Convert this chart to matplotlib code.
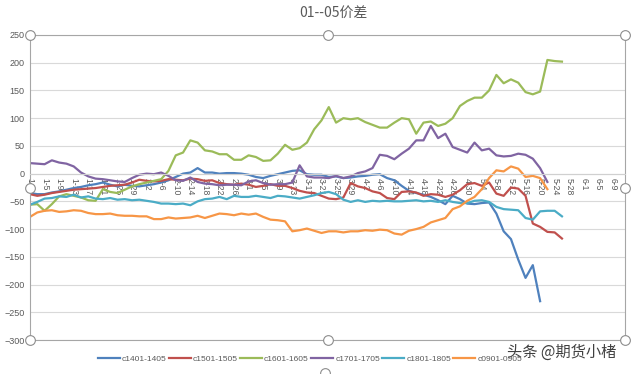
import matplotlib
matplotlib.use('Agg')
import matplotlib.pyplot as plt
import pandas as pd

# dates of the readings (every 2 days from 1-1) and of the axis labels (every 4 days)
start = pd.Timestamp('2016-01-01')
dates = pd.date_range(start, periods=74, freq='2D')
tick_dates = pd.date_range('2016-01-01', '2016-06-09', freq='4D')
tick_labels = [f'{d.month}-{d.day}' for d in tick_dates]

names = ['c1401-1405', 'c1501-1505', 'c1601-1605', 'c1701-1705', 'c1801-1805', 'c0901-0905']

c1401 = [-35, -37, -37, -34, -32, -29, -26, -24, -21, -19,
         -16, -20, -23, -20, -22, -23, -21, -19, -16, -12,
         -6, 0, 2, 10, 2, 2, 0, 1, 1, 0,
         -2, -6, -8, -4, -1, 2, 5, 6, -1, -2,
         -2, -6, -5, -8, -7, -5, -4, -2, -1, -8,
         -12, -22, -31, -35, -38, -42, -48, -55, -40, -46,
         -54, -55, -53, -52, -72, -104, -118, -155, -188, -165,
         -230]
c1501 = [-37, -40, -38, -35, -33, -31, -29, -28, -27, -26,
         -24, -22, -21, -20, -16, -11, -13, -14, -13, -10,
         -11, -12, -9, -10, -13, -12, -17, -19, -20, -18,
         -20, -24, -22, -19, -22, -22, -26, -31, -34, -35,
         -40, -45, -46, -43, -17, -23, -26, -32, -35, -44,
         -46, -33, -32, -34, -40, -37, -38, -42, -38, -30,
         -19, -17, -22, -16, -36, -40, -25, -27, -40, -90,
         -96, -105, -106, -117]
c1601 = [-56, -55, -67, -55, -41, -37, -40, -43, -48, -49,
         -28, -33, -35, -29, -23, -19, -16, -13, -10, 5,
         33, 38, 60, 56, 42, 40, 35, 35, 25, 25,
         33, 30, 23, 24, 36, 52, 43, 46, 56, 80,
         96, 120, 92, 100, 98, 100, 93, 88, 83, 83,
         92, 100, 98, 72, 92, 94, 86, 90, 100, 122,
         131, 137, 137, 150, 178, 163, 170, 164, 147, 143,
         148, 205, 203, 202]
c1701 = [19, 18, 17, 24, 20, 18, 13, 2, -5, -9,
         -10, -12, -14, -15, -8, -2, 0, -1, 2, -4,
         -12, -13, -7, -15, -18, -19, -21, -20, -20, -21,
         -14, -12, -17, -20, -19, -19, -16, 15, -5, -7,
         -7, -8, -4, -8, -5, 1, 4, 10, 34, 32,
         26, 36, 45, 60, 60, 86, 64, 72, 48, 43,
         38, 56, 42, 45, 33, 31, 32, 36, 34, 27,
         10, -15]
c1801 = [-56, -51, -45, -44, -41, -42, -38, -43, -41, -45,
         -46, -44, -47, -46, -48, -47, -49, -51, -54, -54,
         -55, -54, -57, -50, -46, -45, -42, -46, -40, -42,
         -42, -40, -42, -44, -40, -41, -43, -45, -42, -39,
         -35, -33, -37, -47, -51, -48, -51, -49, -50, -49,
         -50, -50, -49, -48, -50, -49, -51, -48, -51, -53,
         -53, -49, -48, -51, -60, -64, -65, -66, -80, -83,
         -68, -67, -67, -77]
c0901 = [-78, -70, -67, -66, -69, -68, -66, -67, -71, -73,
         -73, -72, -75, -76, -76, -77, -77, -82, -82, -79,
         -81, -80, -79, -76, -80, -76, -72, -73, -75, -72,
         -74, -72, -78, -83, -84, -86, -104, -102, -99, -103,
         -107, -104, -104, -106, -104, -104, -102, -103, -101, -102,
         -108, -110, -103, -100, -96, -88, -84, -80, -64, -59,
         -49, -42, -28, -8, 6, 4, 13, 9, -6, -4,
         -8, -28]

series = [c1401, c1501, c1601, c1701, c1801, c0901]
colors = ['#4F81BD', '#C0504D', '#9BBB59', '#8064A2', '#4BACC6', '#F79646']

plt.rcParams['font.family'] = ['Liberation Sans', 'Noto Sans CJK SC', 'DejaVu Sans']
grey = '#595959'

fig = plt.figure(figsize=(6.4, 3.74), dpi=100)
ax = fig.add_axes([30 / 640, 1 - 340 / 374, 595 / 640, 305 / 374])

x = (dates - start).days
for name, vals, col in zip(names, series, colors):
    ax.plot(x[:len(vals)], vals, color=col, lw=1.6, label=name)

ax.set_xlim(0, 163.3)
ax.set_ylim(-300, 250)

# the category axis sits on the zero line; move it before setting ticks
ax.spines['bottom'].set_position(('data', 0))
ax.spines['bottom'].set_color('#d0d0d0')

ax.set_yticks(range(-300, 251, 50))
ax.yaxis.grid(True, color='#d9d9d9', lw=0.8)
ax.set_axisbelow(True)
ax.tick_params(axis='y', length=0, pad=4, labelsize=6.5, labelcolor=grey)

ax.set_xticks((tick_dates - start).days)
ax.set_xticklabels(tick_labels)
ax.tick_params(axis='x', length=0, pad=3, labelsize=6.2, labelcolor=grey,
               labelrotation=-90)

# selection frame round the plot area
for s in ['top', 'left', 'right']:
    ax.spines[s].set_color('#a6a6a6')
ax.plot([0, 1], [0, 0], color='#a6a6a6', lw=0.8, transform=ax.transAxes, clip_on=False)
ax.plot([0, 0.5, 1, 0, 1, 0, 0.5, 1], [1, 1, 1, 0.5, 0.5, 0, 0, 0], 'o',
        transform=ax.transAxes, clip_on=False, ms=7, mfc='white', mec='#8c8c8c',
        mew=0.8, zorder=6)
ax.plot([325 / 640], [1 - 373 / 374], 'o', transform=fig.transFigure, clip_on=False,
        ms=7, mfc='white', mec='#8c8c8c', mew=0.8)

fig.text(333 / 640, 1 - 13 / 374, '01--05价差', ha='center', va='center', fontsize=10,
         color=grey, family=['Noto Sans CJK SC', 'DejaVu Sans'])

fig.legend(loc='center', bbox_to_anchor=(310 / 640, 1 - 359 / 374), ncol=6, frameon=False,
           fontsize=6, handlelength=2.6, handletextpad=0.25, columnspacing=0.3,
           labelcolor=grey)

fig.text(562 / 640, 1 - 352 / 374, '头条 @期货小楮', ha='center', va='center', fontsize=11,
         color='#404040', family=['Noto Sans CJK SC', 'DejaVu Sans'])

fig.savefig('out.png', dpi=100)
